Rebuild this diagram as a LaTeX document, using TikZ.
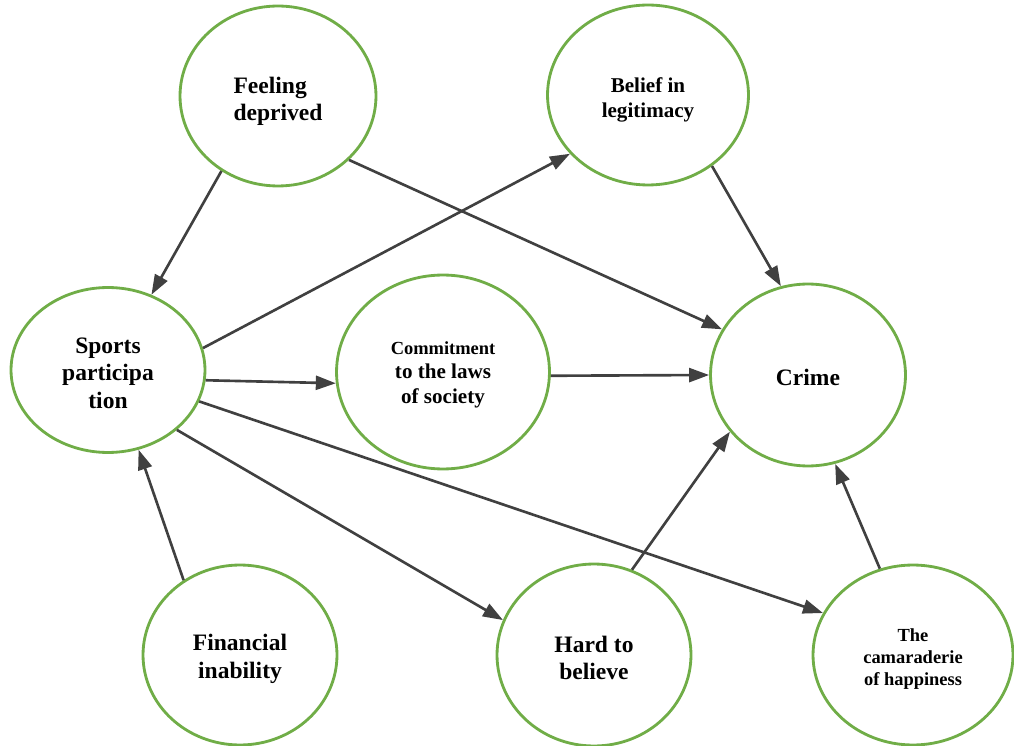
\documentclass[tikz,border=0pt]{standalone}
\usepackage{fontspec}
\setmainfont{Liberation Serif}[BoldFont={Liberation Serif Bold}]
\newfontfamily\labelfont{Liberation Serif Bold}
\usepackage{tikz}
\usetikzlibrary{shapes.geometric, arrows.meta, positioning}
\definecolor{cGreen}{HTML}{70AD47}
\definecolor{cDark}{HTML}{404040}
% invisible strut that pushes a label down inside its ellipse
\newcommand{\topgap}[1]{\rule{0pt}{#1}}
\tikzset{
  factor/.style 2 args={
    ellipse, draw=cGreen, line width=1.6pt, fill=white,
    minimum width=#1, minimum height=#2, inner sep=0pt,
    align=center, font=\labelfont\fontsize{13.4}{15.4}\selectfont
  },
  small/.style={font=\labelfont\fontsize{12}{14.2}\selectfont},
  tiny/.style={font=\labelfont\fontsize{10.5}{12.5}\selectfont},
  arrow/.style={-{Triangle[length=0.4cm, width=0.28cm]}, line width=1.5pt, cDark},
}

\begin{document}
\begin{tikzpicture}[x=0.02cm, y=-0.02cm]
  \useasboundingbox (0,0) rectangle (1014,746);

  % Top row
  \node[factor={3.92cm}{3.6cm}, align=left] (deprived) at (278,96)
    {\topgap{15pt}Feeling\\deprived};
  \node[factor={4.02cm}{3.6cm}, small] (belief) at (648,95)
    {\topgap{13.9pt}Belief in\\legitimacy};

  % Middle row
  \node[factor={3.88cm}{3.3cm}] (sports) at (108,370)
    {\topgap{12.6pt}Sports\\participa\\tion};
  \node[factor={4.26cm}{3.88cm}, small] (commit) at (443,372)
    {{\fontsize{10.5}{13.6}\selectfont\topgap{10.6pt}Commitment}\\[-1pt]to the laws\\of society};
  \node[factor={3.9cm}{3.64cm}] (crime) at (808,375) {\topgap{12pt}Crime};

  % Bottom row
  \node[factor={3.88cm}{3.6cm}] (finance) at (240,655)
    {\topgap{13.7pt}Financial\\inability};
  \node[factor={3.88cm}{3.64cm}] (hard) at (594,655)
    {\topgap{12.6pt}Hard to\\believe};
  \node[factor={4cm}{3.6cm}, tiny] (camarad) at (913,655)
    {\topgap{11.7pt}The\\camaraderie\\of happiness};

  % Links into sports participation
  \draw[arrow] (deprived.233) -- (sports.60);
  \draw[arrow] (finance.127) -- (sports.291);

  % Links out of sports participation
  \draw[arrow] (sports.13) -- (belief.217);
  \draw[arrow] (sports.354) -- (commit.186);
  \draw[arrow] (sports.341) -- (camarad.155);
  \draw[arrow] (sports.319) -- (hard.159);

  % Links into crime
  \draw[arrow] (deprived.318) -- (crime.152);
  \draw[arrow] (commit.358) -- (crime.180);
  \draw[arrow] (belief.312) -- (crime.107);
  \draw[arrow] (hard.66) -- (crime.216);
  \draw[arrow] (camarad.111) -- (crime.287);

\end{tikzpicture}
\end{document}
